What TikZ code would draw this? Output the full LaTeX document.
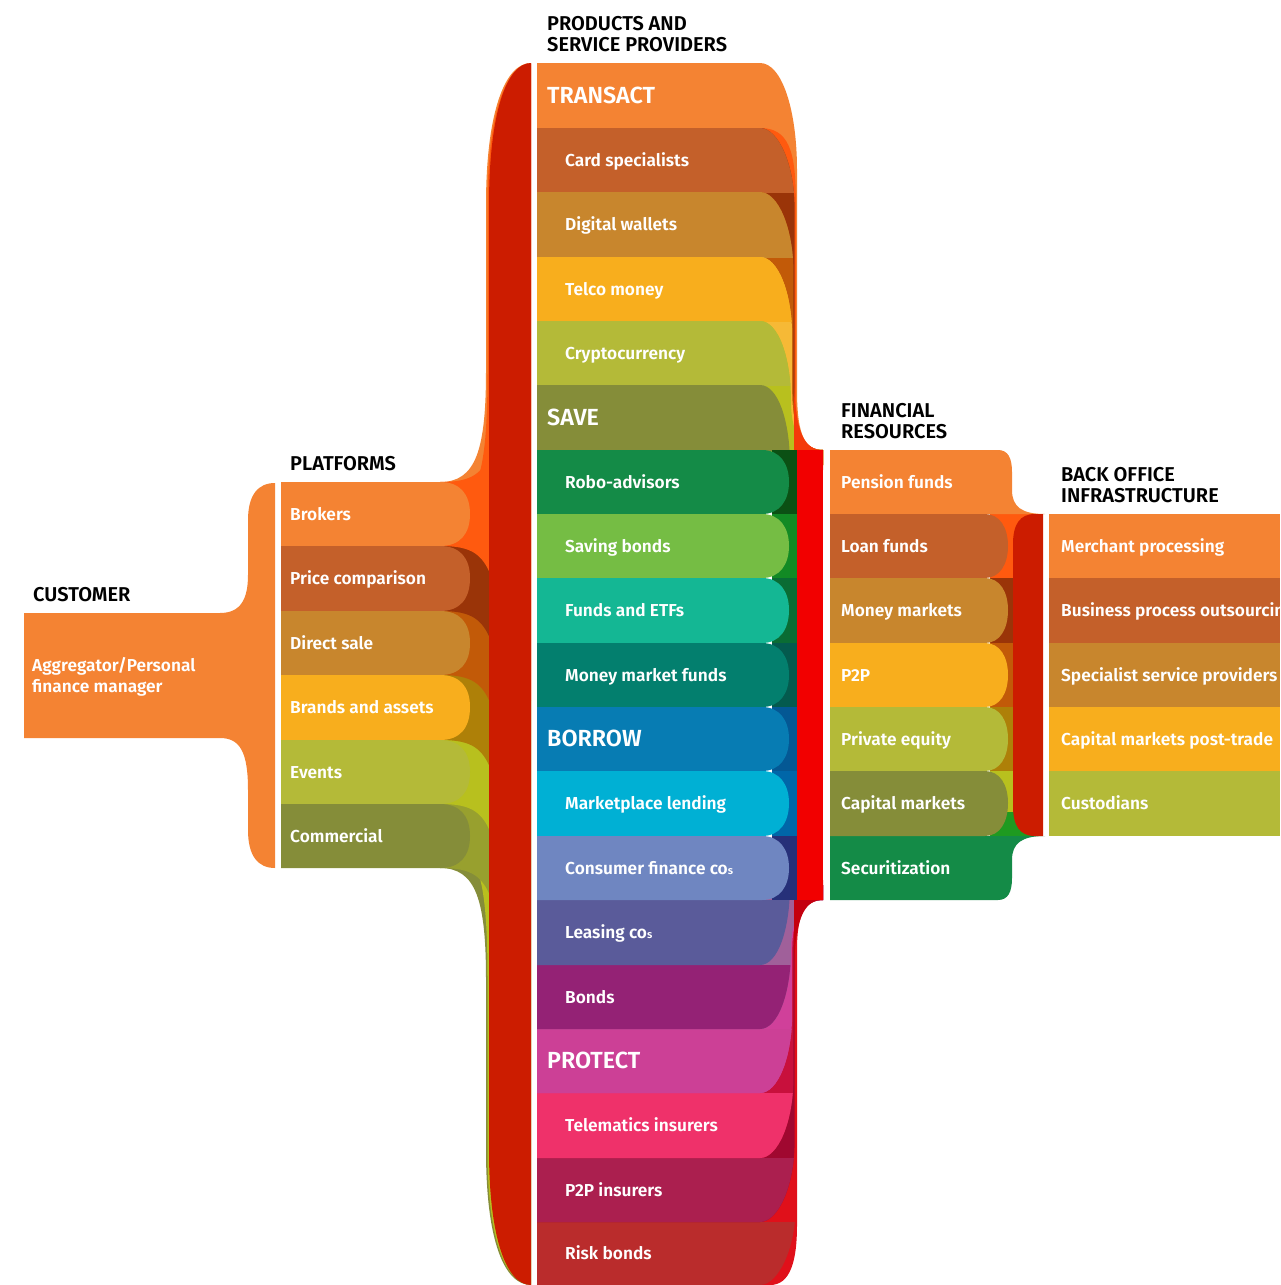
\documentclass[tikz,border=0pt]{standalone}
\usepackage{fontspec}
\setmainfont{Fira Sans}[BoldFont={Fira Sans SemiBold}]
\usepackage{tikz}

\definecolor{cOrange}{HTML}{F48333}
\definecolor{cRust}{HTML}{C4602A}
\definecolor{cOchre}{HTML}{C8862D}
\definecolor{cYellow}{HTML}{F8AE1D}
\definecolor{cLime}{HTML}{B4BA38}
\definecolor{cOlive}{HTML}{858D39}
\definecolor{cGreen}{HTML}{148B47}
\definecolor{cLGreen}{HTML}{75BD44}
\definecolor{cTeal}{HTML}{14B794}
\definecolor{cDTeal}{HTML}{037F6E}
\definecolor{cBlue}{HTML}{077CB3}
\definecolor{cCyan}{HTML}{00B0D4}
\definecolor{cPeri}{HTML}{6F86C1}
\definecolor{cSlate}{HTML}{5A5B9A}
\definecolor{cPurple}{HTML}{942275}
\definecolor{cMagenta}{HTML}{CC4096}
\definecolor{cPink}{HTML}{EF316A}
\definecolor{cCrimson}{HTML}{AB1F4F}
\definecolor{cBrick}{HTML}{BA2C2C}
\definecolor{cBar}{HTML}{CC1C00}
\definecolor{cBright}{HTML}{F20000}
% stream shades
\definecolor{sOrange}{HTML}{FF5A0F}
\definecolor{sRust}{HTML}{9A3408}
\definecolor{sOchre}{HTML}{C25A08}
\definecolor{sYellow}{HTML}{AE8008}
\definecolor{sGold}{HTML}{F6B936}
\definecolor{sLime}{HTML}{B8C01E}
\definecolor{sOlive}{HTML}{98A02E}
\definecolor{sGreen}{HTML}{0B5014}
\definecolor{sLGreen}{HTML}{128A24}
\definecolor{sTeal}{HTML}{0A6C34}
\definecolor{sDTeal}{HTML}{045A4E}
\definecolor{sBlue}{HTML}{045894}
\definecolor{sCyan}{HTML}{0066A8}
\definecolor{sPeri}{HTML}{263079}
\definecolor{sPurple}{HTML}{A0609A}
\definecolor{sMagenta}{HTML}{D0409A}
\definecolor{sPink}{HTML}{C8103C}
\definecolor{sCrimson}{HTML}{A00830}
\definecolor{sBrick}{HTML}{E0101A}
\definecolor{sFlareT}{HTML}{F43A0A}
\definecolor{sFlareB}{HTML}{C4000F}
\definecolor{sGreenB}{HTML}{1E9A20}

\begin{document}
\begin{tikzpicture}[x=1pt,y=-1pt,
    lbl/.style={anchor=base west,inner sep=0,text=white,font=\bfseries\fontsize{17.3}{21}\selectfont},
    head/.style={anchor=base west,inner sep=0,text=white,font=\bfseries\fontsize{23.3}{27}\selectfont},
    ttl/.style={anchor=north west,inner sep=0,align=left,text=black,font=\bfseries\fontsize{20}{21}\selectfont}]
        \useasboundingbox (0,0) rectangle (1280,1285);
        \clip (0,0) rectangle (1280,1285);
        % customer
        \fill[cOrange] (24,613) -- (220,613) .. controls (240,613) and (248,600) .. (248,575) -- (248,520) .. controls (248,495) and (258,483) .. (275,483) -- (275,868) .. controls (258,868) and (248,856) .. (248,830) -- (248,790) .. controls (248,752) and (240,738) .. (220,738) -- (24,738) -- cycle;
        % platforms -> products
        \fill[cOrange] (440,482) .. controls (476,482) and (486,450) .. (486,370) -- (486,205) .. controls (486,112) and (505,63) .. (531,63) -- (531,700) -- (440,700) -- cycle;
        \fill[sOrange] (462,500) .. controls (482,490) and (487.5,450) .. (487.5,370) -- (487.5,205) .. controls (487.5,114) and (506,64) .. (531,64) -- (531,700) -- (462,700) -- cycle;
        \fill[cOlive] (440,868) .. controls (476,868) and (486,900) .. (486,980) -- (486,1150) .. controls (486,1243) and (505,1285) .. (531,1285) -- (531,700) -- (440,700) -- cycle;
        \fill[sLime] (462,850) .. controls (482,860) and (487.5,900) .. (487.5,980) -- (487.5,1150) .. controls (487.5,1241) and (506,1284) .. (531,1284) -- (531,700) -- (462,700) -- cycle;
        \fill[sOlive] (440,804) .. controls (468,804) and (480,798) .. (489,779) -- (489,893) .. controls (480,874) and (468,868) .. (440,868) -- cycle;
        \fill[sLime] (440,740) .. controls (468,740) and (480,734) .. (489,715) -- (489,829) .. controls (480,810) and (468,804) .. (440,804) -- cycle;
        \fill[sYellow] (440,675) .. controls (468,675) and (480,669) .. (489,650) -- (489,765) .. controls (480,746) and (468,740) .. (440,740) -- cycle;
        \fill[sOchre] (440,611) .. controls (468,611) and (480,605) .. (489,586) -- (489,700) .. controls (480,681) and (468,675) .. (440,675) -- cycle;
        \fill[sRust] (440,546) .. controls (468,546) and (480,540) .. (489,521) -- (489,636) .. controls (480,617) and (468,611) .. (440,611) -- cycle;
        \fill[sOrange] (440,482) .. controls (468,482) and (480,476) .. (489,457) -- (489,571) .. controls (480,552) and (468,546) .. (440,546) -- cycle;
        \fill[cOrange] (281,482) -- (440,482) .. controls (460,482) and (470,494) .. (470,514) .. controls (470,534) and (460,546) .. (440,546) -- (281,546) -- cycle;
        \fill[cRust] (281,546) -- (440,546) .. controls (460,546) and (470,558) .. (470,578) .. controls (470,599) and (460,611) .. (440,611) -- (281,611) -- cycle;
        \fill[cOchre] (281,611) -- (440,611) .. controls (460,611) and (470,623) .. (470,643) .. controls (470,663) and (460,675) .. (440,675) -- (281,675) -- cycle;
        \fill[cYellow] (281,675) -- (440,675) .. controls (460,675) and (470,687) .. (470,707) .. controls (470,728) and (460,740) .. (440,740) -- (281,740) -- cycle;
        \fill[cLime] (281,740) -- (440,740) .. controls (460,740) and (470,752) .. (470,772) .. controls (470,792) and (460,804) .. (440,804) -- (281,804) -- cycle;
        \fill[cOlive] (281,804) -- (440,804) .. controls (460,804) and (470,816) .. (470,836) .. controls (470,856) and (460,868) .. (440,868) -- (281,868) -- cycle;
        \fill[cBar] (531,63) -- (531,1285) .. controls (507,1285) and (489,1240) .. (489,1150) -- (489,205) .. controls (489,112) and (507,63) .. (531,63) -- cycle;
        % products, upper rows
        \fill[cOrange] (537,63) -- (760,63) .. controls (782,63) and (797,110) .. (797,170) -- (797,390) .. controls (797,438) and (806,450) .. (823,450) -- (823,465) -- (537,465) -- cycle;
        \fill[sOrange] (537,128) -- (760,128) .. controls (788,128) and (795.8,150) .. (795.8,200) -- (795.8,390) .. controls (795.8,438) and (806,450) .. (823,450) -- (823,465) -- (537,465) -- cycle;
        \fill[sRust] (537,128) -- (760,128) .. controls (778,128) and (794.6,164) .. (794.6,208) -- (794.6,390) .. controls (794.6,438) and (806,450) .. (823,450) -- (823,465) -- (537,465) -- cycle;
        \begin{scope}
        \clip (537,128) rectangle (800,192);
        \fill[cRust] (537,128) -- (760,128) .. controls (778,128) and (794.6,164) .. (794.6,208) -- (537,208) -- cycle;
        \end{scope}
        \fill[sOchre] (537,192) -- (760,192) .. controls (778,192) and (793.4,228) .. (793.4,272) -- (793.4,390) .. controls (793.4,438) and (806,450) .. (823,450) -- (823,465) -- (537,465) -- cycle;
        \begin{scope}
        \clip (537,192) rectangle (800,257);
        \fill[cOchre] (537,192) -- (760,192) .. controls (778,192) and (793.4,228) .. (793.4,272) -- (537,272) -- cycle;
        \end{scope}
        \fill[sGold] (537,257) -- (760,257) .. controls (778,257) and (792.2,293) .. (792.2,337) -- (792.2,390) .. controls (792.2,438) and (806,450) .. (823,450) -- (823,465) -- (537,465) -- cycle;
        \begin{scope}
        \clip (537,257) rectangle (800,321);
        \fill[cYellow] (537,257) -- (760,257) .. controls (778,257) and (792.2,293) .. (792.2,337) -- (537,337) -- cycle;
        \end{scope}
        \fill[sLime] (537,321) -- (760,321) .. controls (778,321) and (791,357) .. (791,401) .. controls (791,440) and (806,450) .. (823,450) -- (823,465) -- (537,465) -- cycle;
        \begin{scope}
        \clip (537,321) rectangle (800,385);
        \fill[cLime] (537,321) -- (760,321) .. controls (778,321) and (791,357) .. (791,401) -- (537,401) -- cycle;
        \end{scope}
        \begin{scope}
        \clip (537,385) rectangle (800,450);
        \fill[cOlive] (537,385) -- (760,385) .. controls (778,385) and (790,421) .. (790,465) -- (537,465) -- cycle;
        \end{scope}
        % products, lower rows
        \fill[sBrick] (537,1285) -- (770,1285) .. controls (790,1285) and (797,1262) .. (797,1225) -- (797,950) .. controls (797,912) and (806,900) .. (823,900) -- (823,885) -- (537,885) -- cycle;
        \begin{scope}
        \clip (537,1222) rectangle (800,1285);
        \fill[cBrick] (537,1285) -- (760,1285) .. controls (778,1285) and (795.8,1249) .. (795.8,1205) -- (537,1205) -- cycle;
        \end{scope}
        \fill[sCrimson] (537,1222) -- (760,1222) .. controls (778,1222) and (794.6,1186) .. (794.6,1142) -- (794.6,950) .. controls (794.6,912) and (806,900) .. (823,900) -- (823,885) -- (537,885) -- cycle;
        \begin{scope}
        \clip (537,1158) rectangle (800,1222);
        \fill[cCrimson] (537,1222) -- (760,1222) .. controls (778,1222) and (794.6,1186) .. (794.6,1142) -- (537,1142) -- cycle;
        \end{scope}
        \fill[sPink] (537,1158) -- (760,1158) .. controls (778,1158) and (793.4,1122) .. (793.4,1078) -- (793.4,950) .. controls (793.4,912) and (806,900) .. (823,900) -- (823,885) -- (537,885) -- cycle;
        \begin{scope}
        \clip (537,1093) rectangle (800,1158);
        \fill[cPink] (537,1158) -- (760,1158) .. controls (778,1158) and (793.4,1122) .. (793.4,1078) -- (537,1078) -- cycle;
        \end{scope}
        \fill[sMagenta] (537,1093) -- (760,1093) .. controls (778,1093) and (792.2,1057) .. (792.2,1013) -- (792.2,950) .. controls (792.2,912) and (806,900) .. (823,900) -- (823,885) -- (537,885) -- cycle;
        \begin{scope}
        \clip (537,1029) rectangle (800,1093);
        \fill[cMagenta] (537,1093) -- (760,1093) .. controls (778,1093) and (792.2,1057) .. (792.2,1013) -- (537,1013) -- cycle;
        \end{scope}
        \fill[sPurple] (537,1029) -- (760,1029) .. controls (778,1029) and (791,993) .. (791,949) .. controls (791,912) and (806,900) .. (823,900) -- (823,885) -- (537,885) -- cycle;
        \begin{scope}
        \clip (537,965) rectangle (800,1029);
        \fill[cPurple] (537,1029) -- (760,1029) .. controls (778,1029) and (791,993) .. (791,949) -- (537,949) -- cycle;
        \end{scope}
        \begin{scope}
        \clip (537,900) rectangle (800,965);
        \fill[cSlate] (537,965) -- (760,965) .. controls (778,965) and (790,929) .. (790,885) -- (537,885) -- cycle;
        \end{scope}
        \fill[sFlareT] (794,380) .. controls (795,436) and (806,450) .. (823,450) -- (823,470) -- (794,470) -- cycle;
        \fill[sFlareB] (794,970) .. controls (795,914) and (806,900) .. (823,900) -- (823,880) -- (794,880) -- cycle;
        % products, middle rows
        \fill[sGreen] (772,450) rectangle (798,514);
        \fill[cGreen] (537,450) -- (762,450) .. controls (780,450) and (789,464) .. (789,482) .. controls (789,500) and (780,514) .. (762,514) -- (537,514) -- cycle;
        \fill[sLGreen] (772,514) rectangle (798,578);
        \fill[cLGreen] (537,514) -- (762,514) .. controls (780,514) and (789,528) .. (789,546) .. controls (789,564) and (780,578) .. (762,578) -- (537,578) -- cycle;
        \fill[sTeal] (772,578) rectangle (798,643);
        \fill[cTeal] (537,578) -- (762,578) .. controls (780,578) and (789,592) .. (789,610) .. controls (789,629) and (780,643) .. (762,643) -- (537,643) -- cycle;
        \fill[sDTeal] (772,643) rectangle (798,707);
        \fill[cDTeal] (537,643) -- (762,643) .. controls (780,643) and (789,657) .. (789,675) .. controls (789,693) and (780,707) .. (762,707) -- (537,707) -- cycle;
        \fill[sBlue] (772,707) rectangle (798,771);
        \fill[cBlue] (537,707) -- (762,707) .. controls (780,707) and (789,721) .. (789,739) .. controls (789,757) and (780,771) .. (762,771) -- (537,771) -- cycle;
        \fill[sCyan] (772,771) rectangle (798,836);
        \fill[cCyan] (537,771) -- (762,771) .. controls (780,771) and (789,785) .. (789,803) .. controls (789,822) and (780,836) .. (762,836) -- (537,836) -- cycle;
        \fill[sPeri] (772,836) rectangle (798,900);
        \fill[cPeri] (537,836) -- (762,836) .. controls (780,836) and (789,850) .. (789,868) .. controls (789,886) and (780,900) .. (762,900) -- (537,900) -- cycle;
        \fill[cBright] (797,450) rectangle (823,900);
        % financial resources -> back office
        \fill[sOrange] (990,514) rectangle (1016,578);
        \fill[sRust] (990,578) rectangle (1016,643);
        \fill[sOchre] (990,643) rectangle (1016,707);
        \fill[sYellow] (990,707) rectangle (1016,771);
        \fill[sLime] (990,771) rectangle (1016,836);
        \fill[sGreenB] (990,812) rectangle (1043,836);
        \fill[sOrange] (990,514) rectangle (1043,540);
        \fill[cOrange] (830,450) -- (998,450) .. controls (1008,450) and (1012,458) .. (1012,472) -- (1012,490) .. controls (1012,507) and (1022,514) .. (1045,514) -- (830,514) -- cycle;
        \fill[cGreen] (830,900) -- (998,900) .. controls (1008,900) and (1012,892) .. (1012,878) -- (1012,860) .. controls (1012,843) and (1022,836) .. (1045,836) -- (830,836) -- cycle;
        \fill[cRust] (830,514) -- (985,514) .. controls (1000,514) and (1008,528) .. (1008,546) .. controls (1008,564) and (1000,578) .. (985,578) -- (830,578) -- cycle;
        \fill[cOchre] (830,578) -- (985,578) .. controls (1000,578) and (1008,592) .. (1008,610) .. controls (1008,629) and (1000,643) .. (985,643) -- (830,643) -- cycle;
        \fill[cYellow] (830,643) -- (985,643) .. controls (1000,643) and (1008,657) .. (1008,675) .. controls (1008,693) and (1000,707) .. (985,707) -- (830,707) -- cycle;
        \fill[cLime] (830,707) -- (985,707) .. controls (1000,707) and (1008,721) .. (1008,739) .. controls (1008,757) and (1000,771) .. (985,771) -- (830,771) -- cycle;
        \fill[cOlive] (830,771) -- (985,771) .. controls (1000,771) and (1008,785) .. (1008,803) .. controls (1008,822) and (1000,836) .. (985,836) -- (830,836) -- cycle;
        \fill[cBar] (1043,514) -- (1043,836) -- (1035,836) .. controls (1020,836) and (1013,826) .. (1013,806) -- (1013,544) .. controls (1013,524) and (1020,514) .. (1035,514) -- cycle;
        \fill[cOrange] (1049,514) rectangle (1280,578);
        \fill[cRust] (1049,578) rectangle (1280,643);
        \fill[cOchre] (1049,643) rectangle (1280,707);
        \fill[cYellow] (1049,707) rectangle (1280,771);
        \fill[cLime] (1049,771) rectangle (1280,836);
        % titles
        \node[ttl] (tproducts) at (547,16.5) {PRODUCTS AND\\SERVICE PROVIDERS};
        \node[ttl] (tplatforms) at (290,456.5) {PLATFORMS};
        \node[ttl] (tcustomer) at (33,587.5) {CUSTOMER};
        \node[ttl] (tfinancial) at (841,403.5) {FINANCIAL\\RESOURCES};
        \node[ttl] (tbackoffice) at (1061,467.5) {BACK OFFICE\\INFRASTRUCTURE};
        % labels
        \node[lbl,anchor=north west,align=left] (aggregator) at (32,657) {Aggregator/Personal\\finance manager};
        \node[lbl] (brokers) at (290,520) {Brokers};
        \node[lbl] (price) at (290,584.5) {Price comparison};
        \node[lbl] (direct) at (290,649) {Direct sale};
        \node[lbl] (brands) at (290,713.5) {Brands and assets};
        \node[lbl] (events) at (290,778) {Events};
        \node[lbl] (commercial) at (290,842) {Commercial};
        \node[head] (transact) at (547,103) {TRANSACT};
        \node[lbl] (card) at (565,166) {Card specialists};
        \node[lbl] (wallets) at (565,230.5) {Digital wallets};
        \node[lbl] (telco) at (565,295) {Telco money};
        \node[lbl] (crypto) at (565,359) {Cryptocurrency};
        \node[head] (save) at (547,425) {SAVE};
        \node[lbl] (robo) at (565,488) {Robo-advisors};
        \node[lbl] (savingbonds) at (565,552) {Saving bonds};
        \node[lbl] (funds) at (565,616.5) {Funds and ETFs};
        \node[lbl] (mmf) at (565,681) {Money market funds};
        \node[head] (borrow) at (547,746.5) {BORROW};
        \node[lbl] (marketplace) at (565,809.5) {Marketplace lending};
        \node[lbl] (consumer) at (565,874) {Consumer finance co{\fontsize{11}{11}\selectfont s}};
        \node[lbl] (leasing) at (565,938.5) {Leasing co{\fontsize{11}{11}\selectfont s}};
        \node[lbl] (bonds) at (565,1003) {Bonds};
        \node[head] (protect) at (547,1068.5) {PROTECT};
        \node[lbl] (telematics) at (565,1131.5) {Telematics insurers};
        \node[lbl] (ptpins) at (565,1196) {P2P insurers};
        \node[lbl] (riskbonds) at (565,1259.5) {Risk bonds};
        \node[lbl] (pension) at (841,488) {Pension funds};
        \node[lbl] (loan) at (841,552) {Loan funds};
        \node[lbl] (moneymkt) at (841,616.5) {Money markets};
        \node[lbl] (ptp) at (841,681) {P2P};
        \node[lbl] (equity) at (841,745) {Private equity};
        \node[lbl] (capital) at (841,809.5) {Capital markets};
        \node[lbl] (securitization) at (841,874) {Securitization};
        \node[lbl] (merchant) at (1061,552) {Merchant processing};
        \node[lbl] (bpo) at (1061,616.5) {Business process outsourcing};
        \node[lbl] (specialist) at (1061,681) {Specialist service providers};
        \node[lbl] (posttrade) at (1061,745) {Capital markets post-trade};
        \node[lbl] (custodians) at (1061,809.5) {Custodians};
\end{tikzpicture}
\end{document}
